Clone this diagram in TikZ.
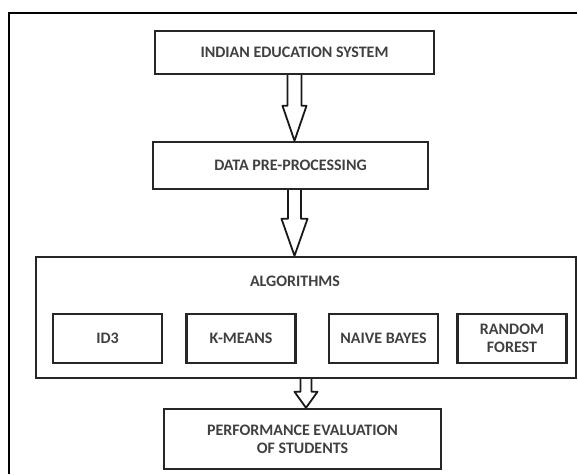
\documentclass[tikz,border=0pt]{standalone}
\usepackage{fontspec}
\setmainfont{Carlito}
\usetikzlibrary{calc}

\tikzset{
  box/.style={draw=black!85, line width=2.4pt, inner sep=0pt, align=center,
    font=\bfseries\fontsize{16}{18}\selectfont, text=black!75},
  algbox/.style={box, minimum width=109, minimum height=49},
  arrowline/.style={draw=black!90, line width=1.8pt, line join=round},
}
% start, end, half shaft, half head, head length
\newcommand{\hollowarrow}[5]{%
  \draw[arrowline] ($(#1)+(-#3,0)$) -- ($(#2)+(-#3,-#5)$) -- ($(#2)+(-#4,-#5)$)
    -- (#2) -- ($(#2)+(#4,-#5)$) -- ($(#2)+(#3,-#5)$) -- ($(#1)+(#3,0)$);}

\begin{document}
\begin{tikzpicture}[x=1pt,y=-1pt]
    \useasboundingbox (0,0) rectangle (578,474);
    % outer frame
    \draw[line width=1.4pt] (9,474) -- (9,13) -- (577,13);

    \node[box, minimum width=279, minimum height=43] (ies) at (294.5,52.5) {INDIAN EDUCATION SYSTEM};
    \node[box, minimum width=275, minimum height=47] (prep) at (290.5,165.5) {DATA PRE-PROCESSING};
    \node[box, minimum width=540, minimum height=121] (alg) at (306,317.5) {};
    \node[font=\bfseries\fontsize{16}{18}\selectfont, text=black!75] (algtitle) at (295,281) {ALGORITHMS};
    \node[algbox] (id3) at (107.5,338.5) {ID3};
    \node[algbox] (kmeans) at (241,338.5) {K-MEANS};
    \node[algbox] (nb) at (383.5,338.5) {NAIVE BAYES};
    \node[algbox] (rf) at (512,338.5) {RANDOM\\FOREST};
    \node[box, minimum width=277, minimum height=60] (perf) at (302.5,439) {PERFORMANCE EVALUATION\\OF STUDENTS};

    % block arrows
    \hollowarrow{ies.south}{ies.south |- prep.north}{7}{12}{35}
    \hollowarrow{ies.south |- prep.south}{ies.south |- alg.north}{6.5}{13}{37}
    \hollowarrow{alg.south}{alg.south |- perf.north}{5.5}{11.5}{16}
\end{tikzpicture}
\end{document}
